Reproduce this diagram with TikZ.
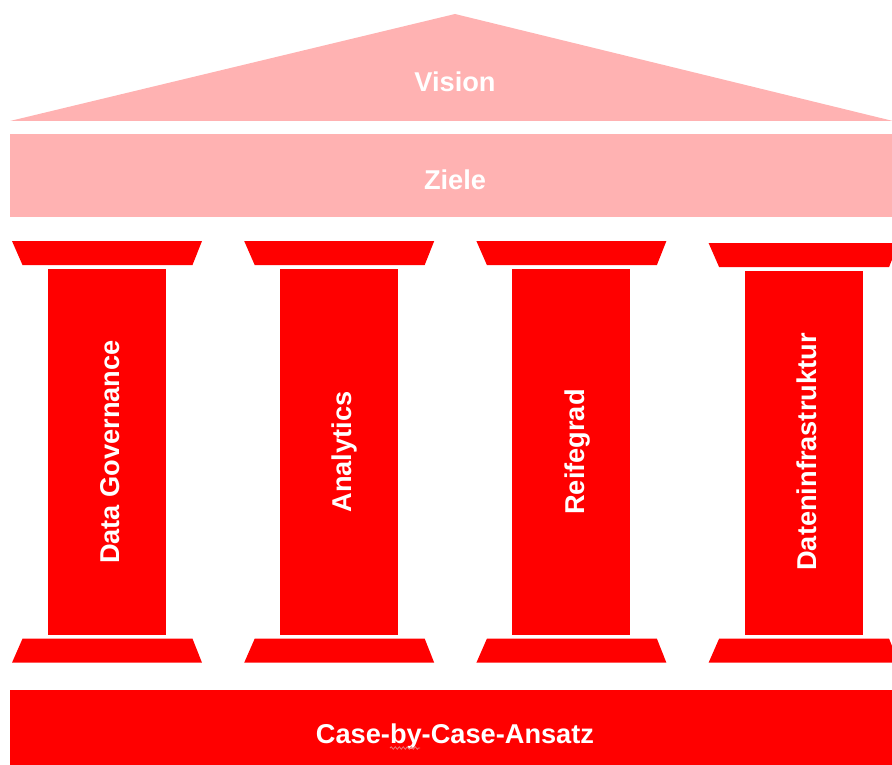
\documentclass[tikz,border=0pt]{standalone}
\usepackage{fontspec}
\setmainfont{Liberation Sans}
\usetikzlibrary{decorations.pathmorphing}
\definecolor{roofpink}{RGB}{255,178,178}
\definecolor{pillarred}{RGB}{255,0,0}
\definecolor{spellmark}{RGB}{235,120,120}
\tikzset{
  x=1pt, y=-1pt,
  roofpart/.style={fill=roofpink, draw=none},
  stonepart/.style={fill=pillarred, draw=none},
  label/.style={text=white, font=\fontsize{27.2}{31}\selectfont\bfseries, inner sep=0pt, anchor=base},
  collabel/.style={label, rotate=90}
}
\begin{document}
\begin{tikzpicture}
\useasboundingbox (0,0) rectangle (892,765);

% roof and architrave
\fill[roofpart] (10,121) -- (455,14) -- (893,121) -- cycle;
\fill[roofpart] (10,134) rectangle (893,217);
\node[label] (vision) at (455,91.7) {Vision};
\node[label] (ziele) at (455,189.3) {Ziele};

% four pillars: capital, shaft, base
\foreach \i/\txt/\dy in {0/Data Governance/0, 1/Analytics/0, 2/Reifegrad/0, 3/Dateninfrastruktur/2}{
  \begin{scope}[xshift=232.2*\i pt]
    \fill[stonepart] (12,241+\dy) -- (202,241+\dy) -- (192.5,265+\dy) -- (22.5,265+\dy) -- cycle;
    \fill[stonepart] (48,268.5+\dy) rectangle (166,635);
    \fill[stonepart] (22.5,638.7) -- (192.5,638.7) -- (202,662.7) -- (12,662.7) -- cycle;
    \node[collabel] (col\i) at (119.6,452) {\txt};
  \end{scope}
}

% foundation
\fill[stonepart] (10,690) rectangle (893,766);
\node[label] (basis) at (455,743.3) {Case-by-Case-Ansatz};
\coordinate (wa) at (390,748);
\coordinate (wb) at (420,748);
\draw[spellmark, line width=0.8pt, decorate, decoration={snake, amplitude=1.2pt, segment length=4pt}] (wa) -- (wb);
\end{tikzpicture}
\end{document}
